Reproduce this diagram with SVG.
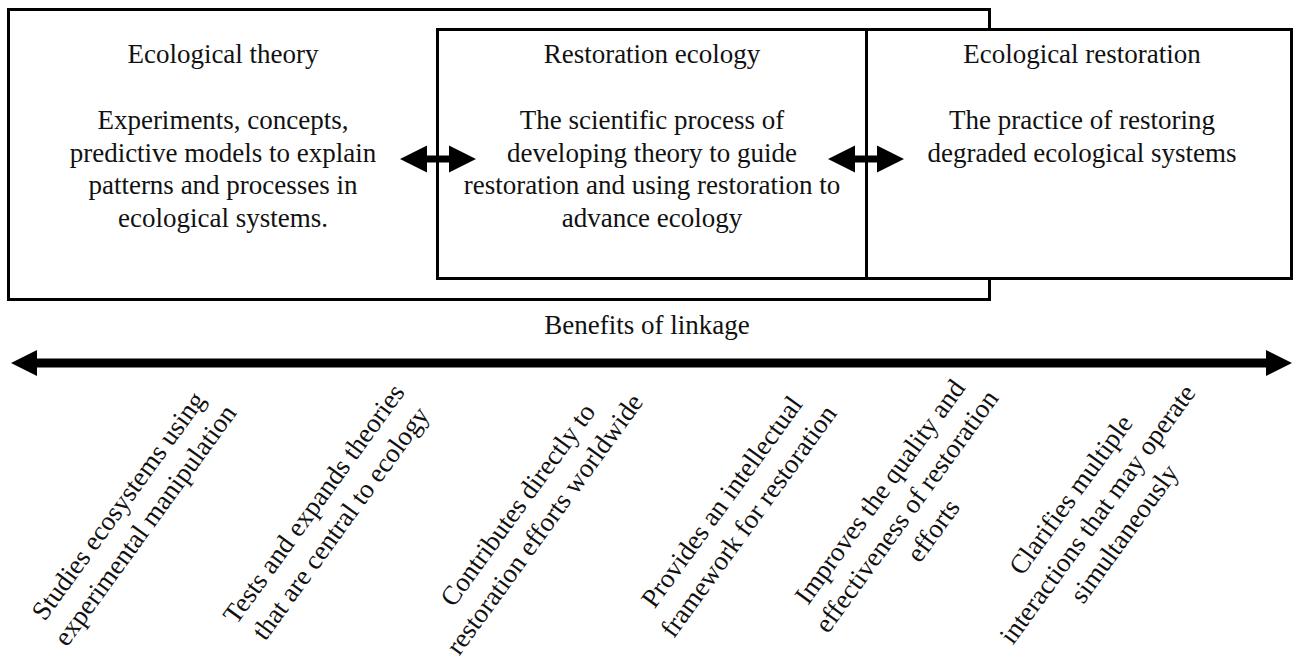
<svg xmlns="http://www.w3.org/2000/svg" width="1294" height="662" viewBox="0 0 1294 662">
<style>
.box{fill:#fff;stroke:#000;stroke-width:3}
.t{font-family:"Liberation Serif","Times New Roman",serif;font-size:27px;fill:#111;text-anchor:middle}
.arr{fill:#000}
</style>
<rect width="1294" height="662" fill="#fff"/>
<g id="ecological-theory">
<rect class="box" x="8.5" y="9.5" width="981" height="290"/>
<text class="t" x="223" y="63">Ecological theory</text>
<text class="t" x="223" y="129">Experiments, concepts,<tspan x="223" dy="32.7">predictive models to explain</tspan><tspan x="223" dy="32.7">patterns and processes in</tspan><tspan x="223" dy="32.7">ecological systems.</tspan></text>
</g>
<g id="restoration-ecology">
<rect class="box" x="437.5" y="29.5" width="429" height="249"/>
<text class="t" x="652" y="63">Restoration ecology</text>
<text class="t" x="652" y="129">The scientific process of<tspan x="652" dy="32.7">developing theory to guide</tspan><tspan x="652" dy="32.7">restoration and using restoration to</tspan><tspan x="652" dy="32.7">advance ecology</tspan></text>
</g>
<g id="ecological-restoration">
<rect class="box" x="866.5" y="29.5" width="425" height="249"/>
<text class="t" x="1082" y="63">Ecological restoration</text>
<text class="t" x="1082" y="129">The practice of restoring<tspan x="1082" dy="32.7">degraded ecological systems</tspan></text>
</g>
<g id="connectors">
<polygon class="arr" points="400,159 427,145.5 427,155.5 449,155.5 449,145.5 476,159 449,172.5 449,162.5 427,162.5 427,172.5"/>
<polygon class="arr" points="828,159 855,145.5 855,155.5 877,155.5 877,145.5 904,159 877,172.5 877,162.5 855,162.5 855,172.5"/>
<polygon class="arr" points="11,363 37,350 37,358.5 1266,358.5 1266,350 1292,363 1266,376 1266,367.5 37,367.5 37,376"/>
</g>
<g id="benefits">
<text class="t" x="647" y="334">Benefits of linkage</text>
<text class="t" transform="translate(125.5,511) rotate(-54)" x="0" y="0">Studies ecosystems using<tspan x="0" dy="33">experimental manipulation</tspan></text>
<text class="t" transform="translate(321,509) rotate(-54)" x="0" y="0">Tests and expands theories<tspan x="0" dy="33">that are central to ecology</tspan></text>
<text class="t" transform="translate(525,510) rotate(-54)" x="0" y="0">Contributes directly to<tspan x="0" dy="33">restoration efforts worldwide</tspan></text>
<text class="t" transform="translate(729,507) rotate(-54)" x="0" y="0">Provides an intellectual<tspan x="0" dy="33">framework for restoration</tspan></text>
<text class="t" transform="translate(887,497) rotate(-54)" x="0" y="0">Improves the quality and<tspan x="0" dy="33">effectiveness of restoration</tspan><tspan x="0" dy="33">efforts</tspan></text>
<text class="t" transform="translate(1078,500) rotate(-54)" x="0" y="0">Clarifies multiple<tspan x="0" dy="33">interactions that may operate</tspan><tspan x="0" dy="33">simultaneously</tspan></text>
</g>
</svg>
